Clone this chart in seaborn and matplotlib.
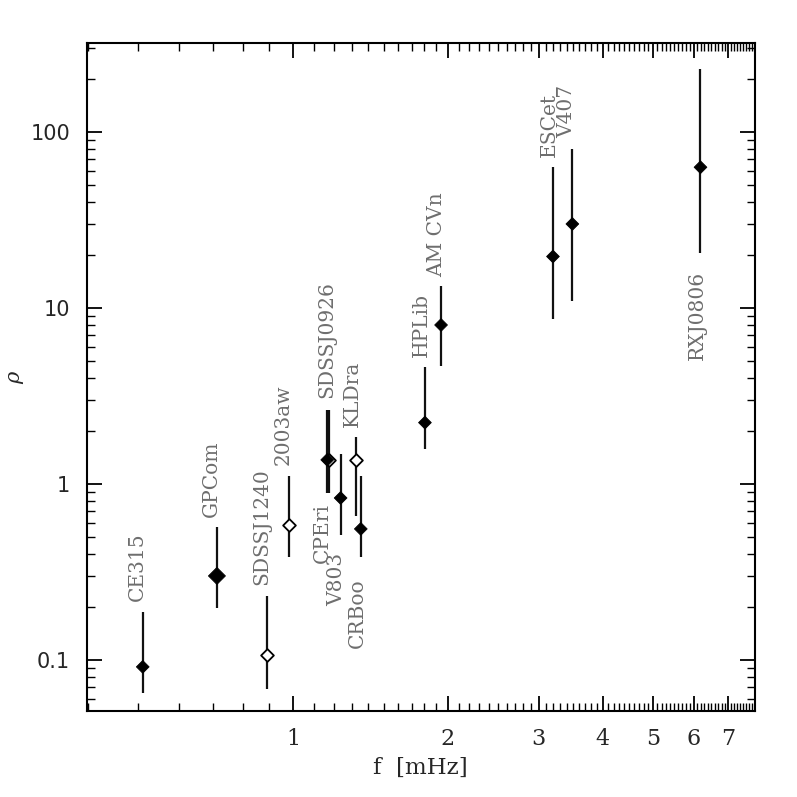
import numpy as np
import pandas as pd
import seaborn as sns
import matplotlib
matplotlib.use("Agg")
import matplotlib.pyplot as plt
from matplotlib.ticker import FixedLocator, NullFormatter, LogLocator

# values
names = ["CE315", "GPCom", "SDSSJ1240", "2003aw", "SDSSJ0926", "CPEri", "V803",
         "KLDra", "CRBoo", "HPLib", "AM CVn", "ESCet", "V407", "RXJ0806"]
freq = [0.511, 0.712, 0.890, 0.984, 1.176, 1.166, 1.238,
        1.327, 1.355, 1.805, 1.94, 3.20, 3.49, 6.19]
rho = [0.0913, 0.300, 0.107, 0.585, 1.37, 1.37, 0.832,
       1.37, 0.555, 2.23, 8.0, 19.6, 30.0, 63.0]
rho_lo = [0.065, 0.197, 0.0684, 0.385, 0.889, 0.889, 0.513,
          0.658, 0.385, 1.58, 4.68, 8.66, 10.9, 20.6]
rho_hi = [0.187, 0.570, 0.231, 1.11, 2.63, 2.63, 1.48,
          1.85, 1.11, 4.62, 13.3, 63.5, 79.7, 227]
filled = [True, True, False, False, False, True, True,
          False, True, True, True, True, True, True]
big = [False, True, False, False, False, False, False,
       False, False, False, False, False, False, False]

# label placement: side of the bar, and (dx, gap) in pixels
side = ["up", "up", "up", "up", "up", "down", "down",
        "up", "down", "up", "up", "up", "up", "down"]
dx_px = [0, 0, 0, -1, 3, 1, 2, 2, 2, 2, 1, 2, 0, 2]
gap_px = [11, 10, 11, 11, 12, 10, 18, 10, 22, 10, 9, 10, 11, 18]

x_major = [1, 2, 3, 4, 5, 6, 7]
x_minor = [round(v, 1) for v in np.arange(0.4, 7.95, 0.1) if round(v, 1) not in x_major]
y_major = [0.1, 1, 10, 100]
y_ticklabels = ["0.1", "1", "10", "100"]

df = pd.DataFrame({"name": names, "f": freq, "rho": rho, "lo": rho_lo,
                   "hi": rho_hi, "filled": filled,
                   "msize": ["big" if b else "small" for b in big]})

sns.set_style("ticks")
plt.rcParams["font.family"] = ["DejaVu Serif"]
plt.rcParams["mathtext.fontset"] = "dejavuserif"

fig = plt.figure(figsize=(7.97, 7.97), dpi=100)
ax = fig.add_axes([0.109, 0.108, 0.838, 0.838])
ax.set_xscale("log")
ax.set_yscale("log")

ax.vlines(df["f"], df["lo"], df["hi"], color="#111111", lw=1.6, zorder=2)

sns.scatterplot(data=df[~df["filled"]], x="f", y="rho", marker="D",
                s=42, color="white", edgecolor="black", linewidth=1.3,
                legend=False, ax=ax, zorder=3)
sns.scatterplot(data=df[df["filled"]], x="f", y="rho", size="msize",
                sizes={"small": 42, "big": 75}, marker="D", color="black",
                edgecolor="black", linewidth=0.6, legend=False, ax=ax, zorder=4)

px = 72.0 / fig.dpi
for i, row in df.iterrows():
    if side[i] == "up":
        ax.annotate(row["name"], xy=(row["f"], row["hi"]),
                    xytext=(dx_px[i] * px, gap_px[i] * px), textcoords="offset points",
                    rotation=90, rotation_mode="anchor", ha="left", va="baseline",
                    fontsize=14.5, color="#6e6e6e")
    else:
        ax.annotate(row["name"], xy=(row["f"], row["lo"]),
                    xytext=(dx_px[i] * px, -gap_px[i] * px), textcoords="offset points",
                    rotation=90, rotation_mode="anchor", ha="right", va="baseline",
                    fontsize=14.5, color="#6e6e6e")

ax.set_xlim(0.398, 7.89)
ax.set_ylim(0.0513, 320)

ax.xaxis.set_major_locator(FixedLocator(x_major))
ax.xaxis.set_minor_locator(FixedLocator(x_minor))
ax.set_xticklabels([str(v) for v in x_major])
ax.xaxis.set_minor_formatter(NullFormatter())
ax.yaxis.set_major_locator(FixedLocator(y_major))
ax.yaxis.set_minor_locator(LogLocator(base=10, subs=np.arange(2, 10)))
ax.set_yticklabels(y_ticklabels, family="DejaVu Sans")
ax.yaxis.set_minor_formatter(NullFormatter())

ax.tick_params(which="both", direction="in", top=True, right=True, color="black")
ax.tick_params(which="major", length=11, width=1.3, labelsize=15)
ax.tick_params(which="minor", length=5.5, width=1.0)
ax.tick_params(axis="x", which="major", pad=12, labelsize=16)
ax.tick_params(axis="y", which="major", pad=12)
for sp in ax.spines.values():
    sp.set_linewidth(1.5)
    sp.set_color("black")

ax.set_xlabel("f  [mHz]", fontsize=16.5, labelpad=5)
ax.set_ylabel(r"$\rho$", fontsize=15, labelpad=3)

fig.savefig("out.png", dpi=100)
